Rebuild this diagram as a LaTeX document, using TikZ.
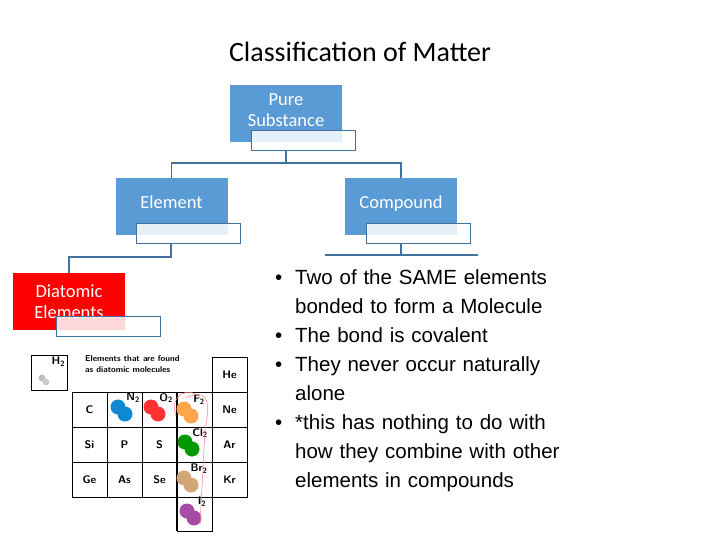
\documentclass[tikz,border=0pt]{standalone}
\usepackage{fontspec}
\setmainfont{Carlito}
\newfontfamily\arialfont{Liberation Sans}
\usetikzlibrary{positioning}
\definecolor{boxblue}{RGB}{91,155,213}
\definecolor{lineblue}{RGB}{65,113,156}
\newcommand{\bitem}{\par\hangindent=20pt\hangafter=1\noindent\makebox[20pt][l]{•}}
\newcommand{\sub}[1]{\textsubscript{#1}}
\begin{document}
\begin{tikzpicture}[x=1pt,y=-1pt]
\tikzset{
  class box/.style = {rectangle,fill=boxblue,text=white,minimum width=112,minimum height=57,inner sep=0,align=center,font=\fontsize{18.5}{24}\selectfont},
  red box/.style = {class box,fill=red},
  tab box/.style = {draw=lineblue,fill=white,fill opacity=0.85,minimum width=104,minimum height=20,inner sep=0},
  link/.style = {draw=lineblue,line width=1.5},
  cell/.style = {draw,line width=0.8,minimum width=35,minimum height=35,inner sep=0,font=\sffamily\bfseries\fontsize{11}{13}\selectfont},
  mol/.style = {circle,inner sep=0,minimum size=15}
}
\useasboundingbox (0,0) rectangle (720,540);
\node (title) at (360,52) {\fontsize{28}{32}\selectfont Classification of Matter};

\node[class box] (pure) at (286,113.5) {\raisebox{6pt}{\shortstack{Pure\\[5pt]Substance}}};
\node[tab box] (puret) at (303,140) {};
\node[class box] (elem) at (171.5,206.5) {\raisebox{8pt}{Element}};
\node[tab box] (elemt) at (188.5,233) {};
\node[class box] (comp) at (401,206.5) {\raisebox{8pt}{Compound}};
\node[tab box] (compt) at (418,233) {};
\node[red box] (diat) at (69,301.5) {\raisebox{-1pt}{\shortstack{Diatomic\\[5pt]Elements}}};
\node[tab box] (diatt) at (108.5,326) {};

\coordinate (j1) at (286,163);
\coordinate (j2) at (171,243);
\coordinate (j3) at (401,255);
\coordinate (cl) at (325,255);
\coordinate (cr) at (478,255);
\draw[link] (286,150) -- (j1) -| (elem.north);
\draw[link] (j1) -| (comp.north);
\draw[link] (j2) -- (171,257) -| (diat.north);
\draw[link] (401,243) -- (j3);
\draw[link] (cl) -- (cr);

\node[anchor=north west,text width=330,font=\arialfont\fontsize{20.5}{29}\selectfont,inner sep=0] (facts) at (275,255) {%
\bitem Two of the SAME elements\newline bonded to form a Molecule
\bitem The bond is covalent
\bitem They never occur naturally\newline alone
\bitem *this has nothing to do with\newline how they combine with other\newline elements in compounds\par};

% periodic table
\node[cell,minimum width=36] (h) at (49,372.5) {};
\node[anchor=north east,font=\sffamily\bfseries\fontsize{11}{13}\selectfont,inner sep=2] (hl) at (h.north east) {H\sub{2}};
\node[mol,fill=gray!50,minimum size=7] (ha) at (42,378) {};
\node[mol,fill=gray!40,minimum size=7] (hb) at (46,382) {};
\node[anchor=north west,font=\sffamily\bfseries\fontsize{8.5}{11}\selectfont,align=left,inner sep=0] (cap) at (85,355) {Elements that are found\\as diatomic molecules};
\node[cell] (he) at (229.5,374.5) {He};
\foreach \s [count=\i] in {C,,,,Ne}
  \node[cell] (r1c\i) at (72+35*\i-17.5,410) {\s};
\foreach \s [count=\i] in {Si,P,S,,Ar}
  \node[cell] (r2c\i) at (72+35*\i-17.5,445) {\s};
\foreach \s [count=\i] in {Ge,As,Se,,Kr}
  \node[cell] (r3c\i) at (72+35*\i-17.5,479.5) {\s};
\draw[line width=0.9] (177,497) -- (177,531) -- (212,531) -- (212,497);
\draw[line width=1.2] (177,392) -- (177,531);
% molecules
\foreach \nm/\cx/\cy/\col/\lab in {n/122/411/cyan!70!blue/N, o/155/411/red!80/O, f/188/413/orange!70/F, cl/189/446/green!60!black/Cl, br/188/482/brown!70/Br, i/191/515/violet!70/I}{
  \node[mol,fill=\col] (\nm a) at (\cx-4,\cy-4) {};
  \node[mol,fill=\col] (\nm b) at (\cx+3,\cy+3) {};
  \node[font=\sffamily\bfseries\fontsize{11}{13}\selectfont,inner sep=0] (\nm l) at (\cx+11,\cy-13) {\lab\sub{2}};
}
\draw[red!50,line width=0.5] (176,416) .. controls (168,395) and (190,385) .. (200,398);
\draw[red!50,line width=0.5] (185,398) .. controls (205,390) and (212,395) .. (205,430) -- (200,525);
\end{tikzpicture}
\end{document}
